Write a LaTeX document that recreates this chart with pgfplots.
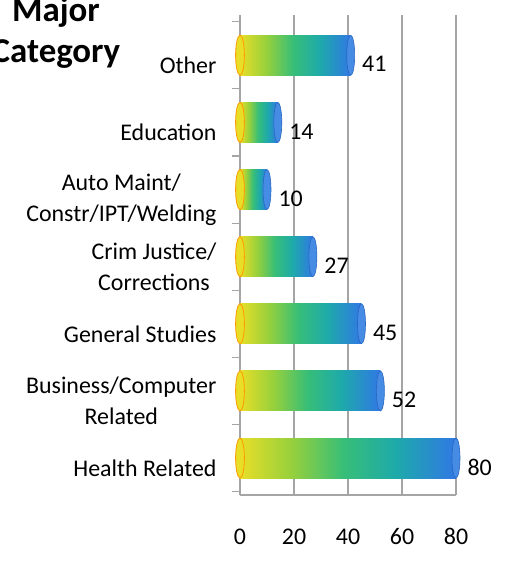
\documentclass[border=0pt]{standalone}
\usepackage{pgfplots}
\pgfplotsset{compat=1.18}
\usepackage{fontspec}
\setmainfont{Carlito}
\definecolor{c1}{RGB}{232,222,40}
\definecolor{c2}{RGB}{150,208,60}
\definecolor{c3}{RGB}{55,190,120}
\definecolor{c4}{RGB}{30,170,170}
\definecolor{c5}{RGB}{48,120,228}
\definecolor{capblue}{RGB}{70,140,228}
\definecolor{gridgray}{RGB}{165,165,165}
\pgfdeclarehorizontalshading{cyl}{100bp}{color(0bp)=(c1); color(25bp)=(c1); color(37bp)=(c2); color(49bp)=(c3); color(61bp)=(c4); color(75bp)=(c5); color(100bp)=(c5)}
\pgfplotsset{
  cylbar/.style={xbar, bar width=40bp, bar shift=0pt, shading=cyl, draw=none,
    nodes near coords,
    nodes near coords style={font={\fontsize{24}{29}\selectfont}, anchor=west, xshift=8bp, yshift=-9bp, text=black}},
}
\begin{document}
\begin{tikzpicture}
\begin{axis}[
  at={(0,0)}, anchor=south west,
  width=216bp, height=480bp, scale only axis,
  xmin=0, xmax=80, ymin=-0.55, ymax=6.6,
  xtick={0,20,40,60,80},
  ytick={0,...,6},
  yticklabels={Health Related,{Business/Computer\\Related},General Studies,{Crim Justice/\\Corrections},{Auto Maint/\\Constr/IPT/Welding},Education,Other},
  yticklabel style={align=center, font={\fontsize{24}{31}\selectfont}, xshift=-20bp, yshift=-10bp},
  xticklabel style={font={\fontsize{24}{29}\selectfont}, yshift=-30bp},
  /pgf/number format/assume math mode=true,
  major tick length=0pt,
  extra y ticks={-0.5,0.5,...,6.5},
  extra y tick labels={},
  extra y tick style={major tick length=8bp, tick align=outside, tick style={gridgray, line width=1.2bp}},
  xmajorgrids, grid style={gridgray, line width=1.2bp},
  axis line style={gridgray, line width=1.2bp},
  axis x line*=bottom, axis y line*=left,
  clip=false,
]
\addplot[only marks, mark=*, mark size=20bp, mark options={xscale=0.22, fill=c1, draw=orange!80!yellow, line width=0.8bp}]
  coordinates {(0,0) (0,1) (0,2) (0,3) (0,4) (0,5) (0,6)};
\addplot[cylbar] coordinates {(80,0)};
\addplot[cylbar] coordinates {(52,1)};
\addplot[cylbar] coordinates {(45,2)};
\addplot[cylbar] coordinates {(27,3)};
\addplot[cylbar] coordinates {(10,4)};
\addplot[cylbar] coordinates {(14,5)};
\addplot[cylbar] coordinates {(41,6)};
\addplot[only marks, mark=*, mark size=20bp, mark options={xscale=0.2, fill=capblue, draw=c5!85!black, line width=0.6bp}]
  coordinates {(80,0) (52,1) (45,2) (27,3) (10,4) (14,5) (41,6)};
\end{axis}
\node[font={\fontsize{35}{41}\selectfont\bfseries}, anchor=base] at (-184bp,473bp) {Major};
\node[font={\fontsize{35}{41}\selectfont\bfseries}, anchor=base] at (-184bp,432bp) {Category};
\pgfresetboundingbox
\path[use as bounding box] (-240bp,-67bp) rectangle (269bp,495bp);
\end{tikzpicture}
\end{document}
